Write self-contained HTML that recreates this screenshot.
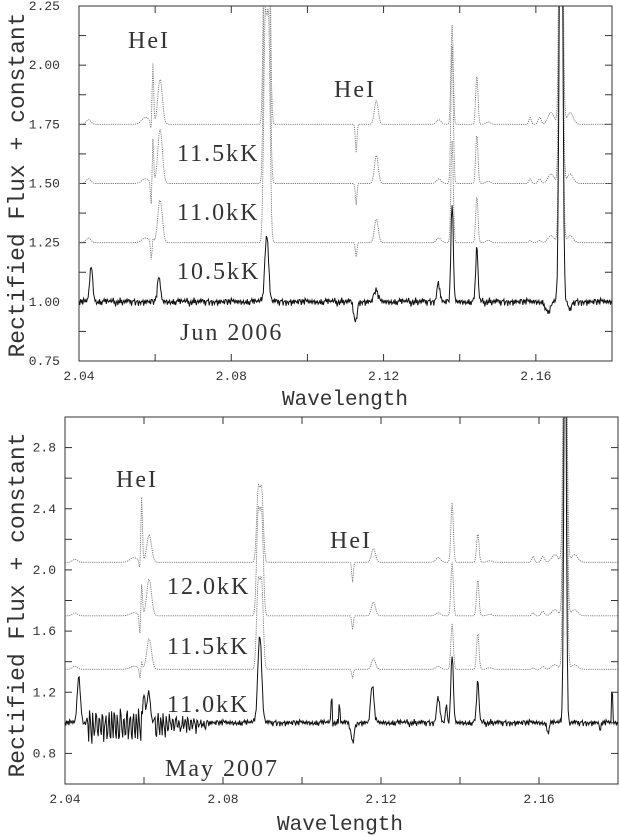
<!DOCTYPE html>
<html><head><meta charset="utf-8"><style>
html,body{margin:0;padding:0;background:#fff;}
svg{display:block;}
text{fill:#333;}
.tk{font-family:"Liberation Mono",monospace;font-size:13px;}
.ax{font-family:"Liberation Mono",monospace;font-size:21px;}
.lb{font-family:"Liberation Serif",serif;font-size:24px;letter-spacing:2px;}
</style></head><body>
<svg id="fig" width="619" height="836" viewBox="0 0 619 836" xmlns="http://www.w3.org/2000/svg">
<defs>
<clipPath id="clipTop"><rect x="79" y="6" width="533" height="355"/></clipPath>
<clipPath id="clipBot"><rect x="65" y="417" width="553" height="367"/></clipPath>
</defs>
<g id="top"></g>
<g id="bot"></g>
<text class="ax" x="345" y="405" text-anchor="middle">Wavelength</text>
<text class="ax" x="340" y="830" text-anchor="middle">Wavelength</text>
<text class="ax" transform="translate(24,185) rotate(-90)" text-anchor="middle" style="font-size:23px">Rectified Flux + constant</text>
<text class="ax" transform="translate(24,605) rotate(-90)" text-anchor="middle" style="font-size:23px">Rectified Flux + constant</text>
<text class="lb" x="128" y="48">HeI</text>
<text class="lb" x="334" y="97">HeI</text>
<text class="lb" x="177" y="161">11.5kK</text>
<text class="lb" x="177" y="220">11.0kK</text>
<text class="lb" x="177" y="279">10.5kK</text>
<text class="lb" x="180" y="340">Jun 2006</text>
<text class="lb" x="116" y="487">HeI</text>
<text class="lb" x="330" y="548">HeI</text>
<text class="lb" x="167" y="594">12.0kK</text>
<text class="lb" x="167" y="654">11.5kK</text>
<text class="lb" x="167" y="712">11.0kK</text>
<text class="lb" x="165" y="776">May 2007</text>
</svg>
<script>
// ---- data ----
const topCenters = [2.0425,2.0575,2.0590,2.0594,2.0613,2.0889,2.0898,2.1128,2.1181,2.1345,2.1380,2.1445,2.1475,2.1585,2.1610,2.1640,2.1666,2.1690];
const topWidths  = [0.0006,0.0010,0.0002,0.0002,0.0006,0.0004,0.0004,0.0002,0.0005,0.0006,0.0003,0.0003,0.0006,0.0003,0.0004,0.0008,0.0004,0.0008];
const topM105 = [0.02,0.02,-0.08,0.02,0.18,0.90,0.90,-0.06,0.10,0.02,0.43,0.20,0.01,0.01,0.01,0.03,2.0,0.03];
const topM110 = [0.02,0.02,-0.12,0.20,0.23,1.10,1.10,-0.09,0.12,0.02,0.58,0.21,0.01,0.02,0.02,0.04,2.0,0.04];
const topM115 = [0.02,0.03,-0.05,0.26,0.19,1.20,1.20,-0.12,0.10,0.02,0.42,0.21,0.01,0.03,0.03,0.05,2.0,0.05];
const topBases = [1.25,1.5,1.75];
const obsTopCenters = [2.0432,2.0610,2.0893,2.1126,2.1180,2.1344,2.1380,2.1445,2.1632,2.1666,2.1690];
const obsTopWidths  = [0.0004,0.0004,0.0005,0.0004,0.0005,0.0004,0.0003,0.0003,0.0006,0.0004,0.0004];
const obsTopAmps    = [0.15,0.10,0.28,-0.09,0.05,0.08,0.42,0.23,-0.05,2.5,-0.04];

const botCenters = topCenters;
const botWidths = topWidths;
const botM110 = [0.02,0.02,-0.07,0.05,0.20,0.55,0.55,-0.06,0.07,0.02,0.30,0.24,0.01,0.01,0.02,0.03,2.5,0.03];
const botM115 = [0.02,0.02,-0.15,0.22,0.24,0.65,0.65,-0.09,0.09,0.02,0.35,0.24,0.01,0.02,0.03,0.04,2.5,0.04];
const botM120 = [0.02,0.03,-0.08,0.43,0.18,0.46,0.46,-0.13,0.09,0.03,0.39,0.19,0.01,0.04,0.04,0.05,2.5,0.05];
const botBases = [1.35,1.70,2.05];
const obsBotCenters = [2.0435,2.0600,2.0612,2.0893,2.1075,2.1095,2.1128,2.1178,2.1345,2.1365,2.1380,2.1445,2.1623,2.1666,2.1755,2.1785];
const obsBotWidths  = [0.0004,0.0003,0.0004,0.0005,0.0001,0.0001,0.0004,0.0004,0.0004,0.0002,0.0003,0.0003,0.0003,0.0003,0.0001,0.0001];
const obsBotAmps    = [0.30,0.18,0.20,0.57,0.25,0.18,-0.13,0.25,0.17,0.12,0.45,0.27,-0.06,3.0,-0.10,0.32];

const noise = [0.3,-0.5,0.8,-0.2,0.1,-0.9,0.6,0.4,-0.3,0.7,-0.7,0.2,-0.1,0.9,-0.4,0.5,-0.8,0.0,0.6,-0.6,0.3,-0.2,0.8,-0.5,0.1,0.4,-0.9,0.7,-0.3,0.2,-0.6,0.9,-0.1,0.5,-0.4,0.3,-0.8,0.6,0.0,-0.5,0.7,-0.2,0.4,-0.7,0.1,0.8,-0.3,0.5,-0.9,0.2,0.6,-0.4,0.3,-0.1,0.9,-0.6,0.4,-0.8,0.1,0.7,-0.5,0.2,-0.3,0.8,-0.7,0.5,0.0,-0.4,0.6,-0.9,0.3,0.1,-0.2,0.7,-0.6,0.4,-0.1,0.9,-0.8,0.2,0.5,-0.3,0.6,-0.5,0.1,-0.7,0.8,-0.2,0.3,-0.4,0.7,0.0,-0.6,0.5,-0.9,0.2,0.4];
const fringe = [1.0,0.5,-0.6,-1.0,0.8,0.2,-0.9,-0.4,1.0,0.6,-0.3,-1.0,0.7,0.4,-0.7,-0.6,0.9,0.9,-1.0,-0.2,0.5,0.6,-0.9,-0.8,0.3,1.0,-0.5,-0.7,0.9,0.1,-0.8];

const topXTicks = ["2.04","2.08","2.12","2.16"];
const topYTicks = ["0.75","1.00","1.25","1.50","1.75","2.00","2.25"];
const botXTicks = ["2.04","2.08","2.12","2.16"];
const botYTicks = ["0.8","1.2","1.6","2.0","2.4","2.8"];

// ---- axes ----
const NS = "http://www.w3.org/2000/svg";
function mk(tag, attrs, parent){const e=document.createElementNS(NS,tag);for(const k in attrs)e.setAttribute(k,attrs[k]);parent.appendChild(e);return e;}
const W0=2.04, W1=2.18;
const P = {
  top:{x0:79,x1:612,y0:361,y1:6,v0:0.75,v1:2.25,minor:0.125,clip:"clipTop",lx:60,na:0.022},
  bot:{x0:65,x1:618,y0:784,y1:417,v0:0.6,v1:3.0,minor:0.2,clip:"clipBot",lx:56,na:0.03}
};
function sx(p,w){return p.x0+(w-W0)/(W1-W0)*(p.x1-p.x0);}
function sy(p,v){return p.y0-(v-p.v0)/(p.v1-p.v0)*(p.y0-p.y1);}
function prof(w,c,a,s){let v=0;for(let i=0;i<c.length;i++){const d=(w-c[i])/s[i];v+=a[i]*Math.exp(-0.5*d*d);}return v;}

function drawAxes(p,g,xt,yt,key){
  mk("rect",{x:p.x0,y:p.y1,width:p.x1-p.x0,height:p.y0-p.y1,fill:"none",stroke:"#333","stroke-width":1},g);
  for(let w=W0;w<=W1+1e-9;w+=0.02){const x=sx(p,w);
    mk("line",{x1:x,x2:x,y1:p.y0,y2:p.y0-7,stroke:"#333"},g);
    mk("line",{x1:x,x2:x,y1:p.y1,y2:p.y1+7,stroke:"#333"},g);}
  for(let v=p.v0;v<=p.v1+1e-9;v+=p.minor){const y=sy(p,v);
    mk("line",{x1:p.x0,x2:p.x0+7,y1:y,y2:y,stroke:"#333"},g);
    mk("line",{x1:p.x1,x2:p.x1-7,y1:y,y2:y,stroke:"#333"},g);}
  xt.forEach(t=>{const e=mk("text",{x:sx(p,parseFloat(t)),y:p.y0+19,"text-anchor":"middle","class":"tk"},g);e.textContent=t;
    
    });
  yt.forEach(t=>{const e=mk("text",{x:p.lx,y:sy(p,parseFloat(t))+4,"text-anchor":"end","class":"tk"},g);e.textContent=t;
    
    });
}
function series(p,g,base,c,a,s,obs,fr,name){
  let d="";let i=0;
  for(let w=W0;w<=W1+1e-9;w+=0.0002,i++){
    let v=base+prof(w,c,a,s);
    if(obs){v+=p.na*noise[i%noise.length]*0.6+p.na*0.4*noise[(i*7+3)%noise.length];
      if(fr){ const f=fringe[i%fringe.length]*(0.6+0.4*Math.abs(noise[(i*3)%noise.length]));
              if(w>2.0455&&w<2.0595) v+=-0.02+0.12*f;
              else if(w>2.0625&&w<2.076) v+=-0.01+0.09*(1-(w-2.0625)/0.02)*f; }}
    d+=(d?"L":"M")+sx(p,w).toFixed(1)+","+sy(p,v).toFixed(1);
  }
  const e=mk("path",{d:d,fill:"none","clip-path":"url(#"+p.clip+")",stroke:obs?"#111":"#777","stroke-width":obs?1:0.9,"stroke-dasharray":obs?"none":"1.2,1"},g);
  
  
}
const gT=document.getElementById("top"), gB=document.getElementById("bot");
drawAxes(P.top,gT,topXTicks,topYTicks,"top");
drawAxes(P.bot,gB,botXTicks,botYTicks,"bottom");
series(P.top,gT,topBases[0],topCenters,topM105,topWidths,false,false,"model-10-5kK-top");
series(P.top,gT,topBases[1],topCenters,topM110,topWidths,false,false,"model-11-0kK-top");
series(P.top,gT,topBases[2],topCenters,topM115,topWidths,false,false,"model-11-5kK-top");
series(P.top,gT,1.0,obsTopCenters,obsTopAmps,obsTopWidths,true,false,"observed-jun-2006");
series(P.bot,gB,botBases[0],botCenters,botM110,botWidths,false,false,"model-11-0kK-bottom");
series(P.bot,gB,botBases[1],botCenters,botM115,botWidths,false,false,"model-11-5kK-bottom");
series(P.bot,gB,botBases[2],botCenters,botM120,botWidths,false,false,"model-12-0kK-bottom");
series(P.bot,gB,1.0,obsBotCenters,obsBotAmps,obsBotWidths,true,true,"observed-may-2007");
</script>
</body></html>
